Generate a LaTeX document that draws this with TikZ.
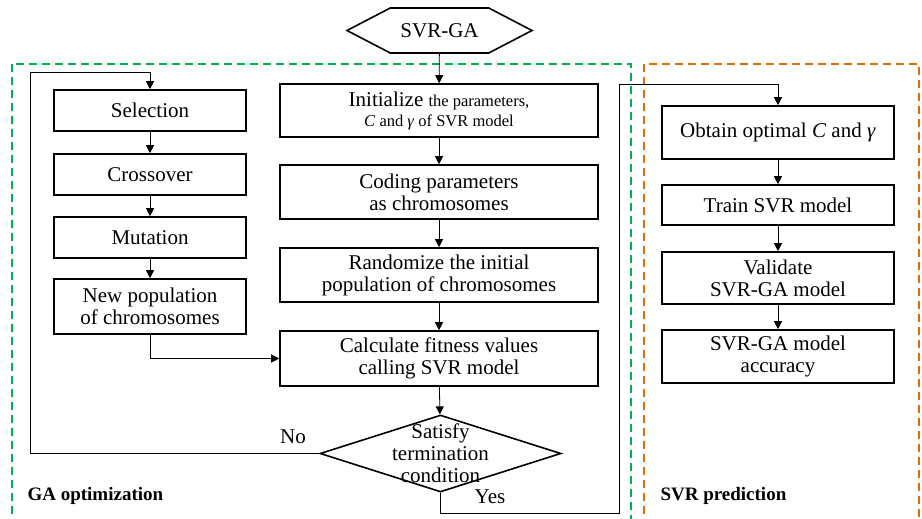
\documentclass[tikz,border=0pt]{standalone}
\usepackage{fontspec}
\setmainfont{Liberation Serif}
\newfontfamily\timesfont{Liberation Serif}
\usepackage{xcolor}
\usepackage{tikz}
\usetikzlibrary{positioning,arrows.meta,shapes.geometric,shapes.symbols}
\definecolor{verde}{HTML}{00B050}
\definecolor{naranja}{HTML}{E36C0A}

\begin{document}
\begin{tikzpicture}[
  x=1pt, y=-1pt,
  font=\timesfont\fontsize{21}{22}\selectfont,
  box/.style={draw, line width=1.6pt, align=center, inner sep=2pt},
  gabox/.style={box, minimum width=192pt},
  svrbox/.style={box, minimum width=318pt},
  predbox/.style={box, minimum width=232pt},
  arrow/.style={-{Triangle[length=8pt,width=8pt]}, line width=0.8pt},
  frame/.style={line width=2pt, dash pattern=on 8pt off 5pt}
]
  \clip (0,0) rectangle (922,519);
  \useasboundingbox (0,0) rectangle (922,519);

  % dashed frames
  \draw[frame, verde] (12,64) rectangle (631,530);
  \draw[frame, naranja] (644,64) rectangle (919,530);

  % start
  \node[draw, line width=1.6pt, signal, signal to=west and east, signal pointer angle=55,
        minimum width=185pt, minimum height=45pt, inner sep=0pt] (start) at (439.5,30.5) {SVR-GA};

  % GA operators
  \node[gabox, minimum height=41pt] (sel) at (150,110.5) {Selection};
  \node[gabox, minimum height=41pt] (cross) at (150,174.5) {Crossover};
  \node[gabox, minimum height=41pt] (mut) at (150,237.5) {Mutation};
  \node[gabox, minimum height=55pt] (newpop) at (150,306.5) {New population\\of chromosomes};

  % main column
  \node[svrbox, minimum height=53pt] (init) at (439,110.5)
    {Initialize {\fontsize{16.5}{20}\selectfont the parameters,}\\[-2pt]
     {\fontsize{16.5}{20}\selectfont\textit{C} and \textit{γ} of SVR model}};
  \node[svrbox, minimum height=54pt] (coding) at (439,192) {Coding parameters\\as chromosomes};
  \node[svrbox, minimum height=54pt] (rand) at (439,275) {Randomize the initial\\population of chromosomes};
  \node[svrbox, minimum height=55pt] (calc) at (439,358.5) {Calculate fitness values\\calling SVR model};
  \node[draw, line width=1.6pt, diamond, minimum width=241pt, minimum height=77pt, inner sep=0pt] (cond) at (440.5,453.5) {};
  \node[align=center] (condtxt) at (cond) {Satisfy\\termination\\condition};

  % prediction column
  \node[predbox, minimum height=53pt] (obtain) at (778,132.5) {Obtain optimal \textit{C} and \textit{γ}};
  \node[predbox, minimum height=40pt] (train) at (778,205) {Train SVR model};
  \node[predbox, minimum height=52pt] (valid) at (778,278) {Validate\\SVR-GA model};
  \node[predbox, minimum height=53pt] (acc) at (778,356.5) {SVR-GA model\\accuracy};

  % labels
  \node (no) at (293,437) {No};
  \node (yes) at (490,497) {Yes};
  \node[anchor=west, font=\timesfont\fontsize{19}{22}\selectfont\bfseries] (galbl) at (24,496) {GA optimization};
  \node[anchor=west, font=\timesfont\fontsize{19}{22}\selectfont\bfseries] (svrlbl) at (657,496) {SVR prediction};

  \coordinate (loop) at (30,72);
  \coordinate (yesb) at (619,513);
  \coordinate (yest) at (619,84);

  \draw[arrow] (start) -- (init);
  \draw[arrow] (init) -- (coding);
  \draw[arrow] (coding) -- (rand);
  \draw[arrow] (rand) -- (calc);
  \draw[arrow] (calc) -- (cond);
  \draw[arrow] (sel) -- (cross);
  \draw[arrow] (cross) -- (mut);
  \draw[arrow] (mut) -- (newpop);
  \draw[arrow] (newpop.south) |- (calc.west);
  \draw[arrow] (cond.west) -| (loop) -| (sel.north);
  \draw[arrow] (cond.south) |- (yesb) -- (yest) -| (obtain.north);
  \draw[arrow] (obtain) -- (train);
  \draw[arrow] (train) -- (valid);
  \draw[arrow] (valid) -- (acc);
\end{tikzpicture}
\end{document}
